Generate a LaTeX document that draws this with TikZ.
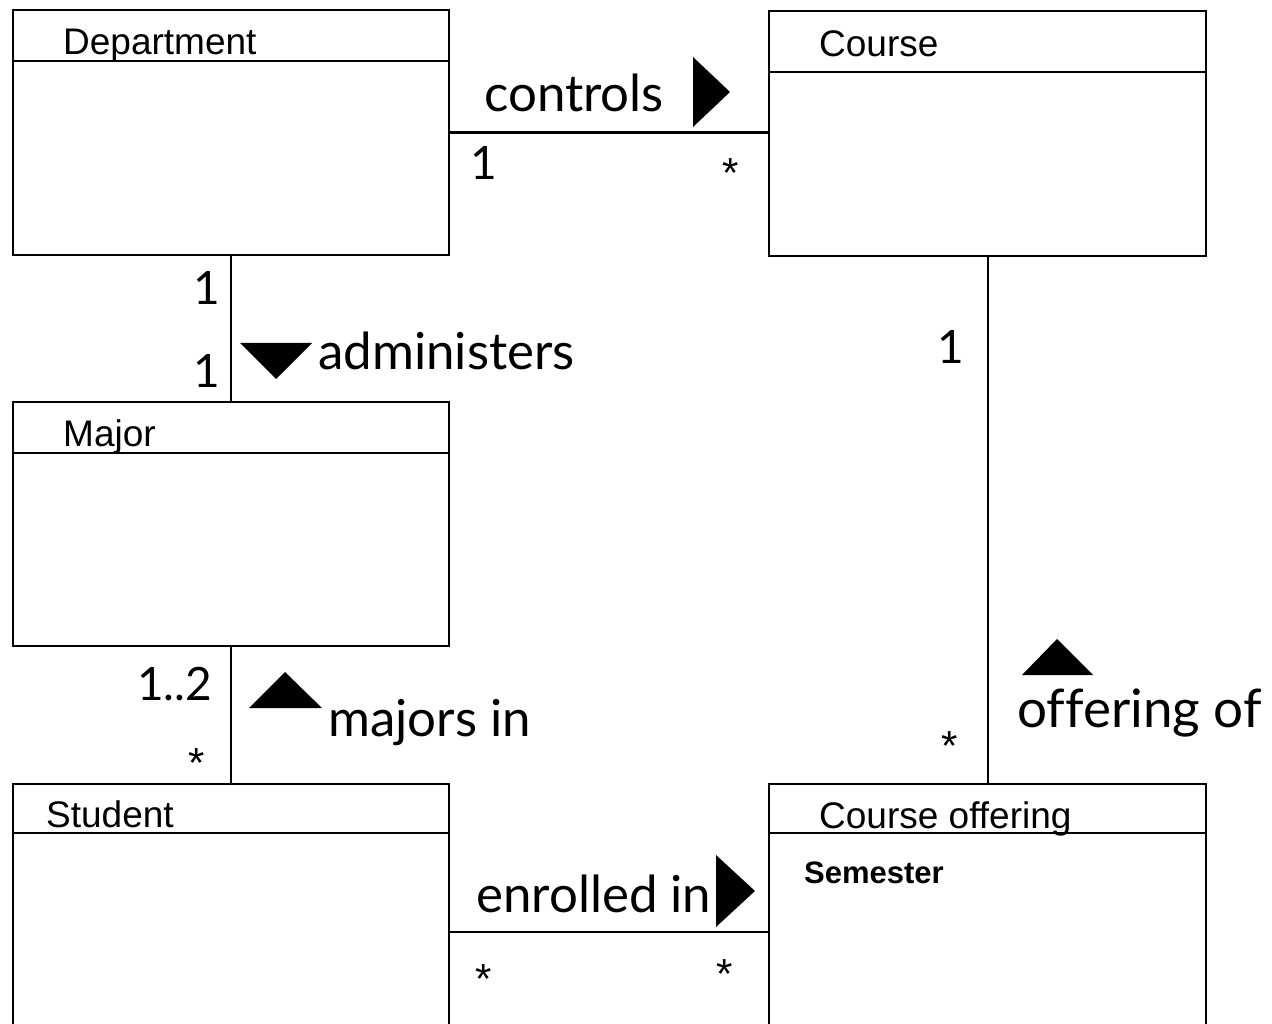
\documentclass[tikz,border=0pt]{standalone}
\usepackage{fontspec}
\setmainfont{Liberation Sans}
\newfontfamily\labelfont[Ligatures=NoCommon]{Lato}
\usetikzlibrary{calc}
\begin{document}
\begin{tikzpicture}[x=1pt,y=-1pt,
  classbox/.style={draw, line width=2.2pt, rectangle, anchor=north west, inner sep=0pt},
  classname/.style={anchor=base west, inner sep=0pt, font=\fontsize{37}{40}\selectfont},
  attr/.style={anchor=base west, inner sep=0pt, font=\bfseries\fontsize{31}{34}\selectfont},
  rel/.style={anchor=base west, inner sep=0pt, font=\labelfont\fontsize{51}{56}\selectfont},
  mult/.style={anchor=base west, inner sep=0pt, font=\labelfont\fontsize{46}{50}\selectfont},
  star/.style={anchor=north, inner sep=0pt, font=\fontsize{42}{46}\selectfont},
  conn/.style={line width=2.2pt},
  dirmark/.style={fill=black}
]
\useasboundingbox (0,0) rectangle (1272,1024);
\clip (0,0) rectangle (1272,1024);

% class boxes
\node[classbox, minimum width=436pt, minimum height=245pt] (dept)    at (12,9)   {};
\node[classbox, minimum width=437pt, minimum height=245pt] (course)  at (768,10) {};
\node[classbox, minimum width=436pt, minimum height=244pt] (major)   at (12,401) {};
\node[classbox, minimum width=436pt, minimum height=296pt] (student) at (12,783) {};
\node[classbox, minimum width=437pt, minimum height=296pt] (offer)   at (768,783) {};

% name compartments
\draw[conn] ($(dept.north west)+(0,52)$)    -- ($(dept.north east)+(0,52)$);
\draw[conn] ($(course.north west)+(0,62)$)  -- ($(course.north east)+(0,62)$);
\draw[conn] ($(major.north west)+(0,52)$)   -- ($(major.north east)+(0,52)$);
\draw[conn] ($(student.north west)+(0,50)$) -- ($(student.north east)+(0,50)$);
\draw[conn] ($(offer.north west)+(0,50)$)   -- ($(offer.north east)+(0,50)$);

% class names
\node[classname] (deptname)    at (63,55)  {Department};
\node[classname] (coursename)  at (819,57) {Course};
\node[classname] (majorname)   at (63,446) {Major};
\node[classname] (studentname) at (46,827) {Student};
\node[classname] (offername)   at (819,828) {Course offering};
\node[attr] (semester) at (804,883) {Semester};

% associations
\draw[conn] (dept.east) -- (dept.east -| course.west);
\draw[conn] (dept.south) -- (major.north);
\draw[conn] (major.south) -- (student.north);
\draw[conn] (course.south) -- (offer.north);
\draw[conn] (student.east) -- (student.east -| offer.west);

% reading direction marks
\fill[dirmark] (693,57) -- (730,92) -- (693,127) -- cycle;
\fill[dirmark] (240,343) -- (312,343) -- (276,379) -- cycle;
\fill[dirmark] (249,708) -- (285,672) -- (322,708) -- cycle;
\fill[dirmark] (1022,675) -- (1057,639) -- (1093,675) -- cycle;
\fill[dirmark] (716,855) -- (755,891) -- (716,927) -- cycle;

% association names
\node[rel] (controls)    at (484,112)  {controls};
\node[rel] (administers) at (318,370)  {administers};
\node[rel] (majorsin)    at (328,736)  {majors in};
\node[rel, font=\labelfont\fontsize{53}{58}\selectfont] (offeringof) at (1017,727) {offering of};
\node[rel] (enrolledin)  at (476,912)  {enrolled in};

% multiplicities
\node[mult] (m1) at (470,180) {1};
\node[star] (m2) at (731,158) {*};
\node[mult] (m3) at (193,305) {1};
\node[mult] (m4) at (193,388) {1};
\node[mult] (m5) at (937,363) {1};
\node[mult] (m6) at (137,700) {1..2};
\node[star] (m7) at (197,748) {*};
\node[star] (m8) at (950,731) {*};
\node[star] (m9) at (484,964) {*};
\node[star] (m10) at (725,959) {*};
\end{tikzpicture}
\end{document}
